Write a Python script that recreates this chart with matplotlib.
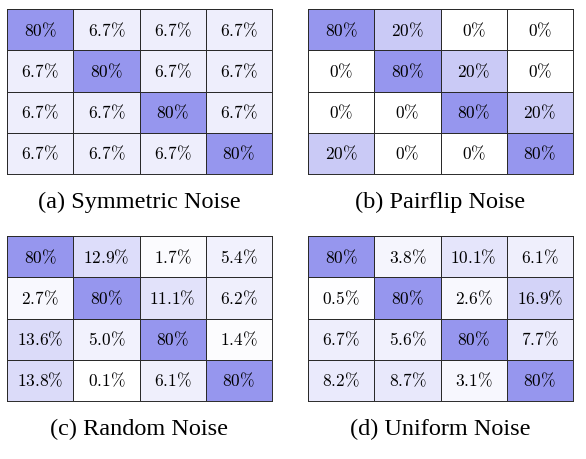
import numpy as np
import matplotlib
matplotlib.use('Agg')
import matplotlib.pyplot as plt
from matplotlib.colors import LinearSegmentedColormap, Normalize

plt.rcParams['mathtext.fontset'] = 'cm'

# cell values (percent), kept as printed in the picture
symmetric = [['80', '6.7', '6.7', '6.7'],
             ['6.7', '80', '6.7', '6.7'],
             ['6.7', '6.7', '80', '6.7'],
             ['6.7', '6.7', '6.7', '80']]
pairflip = [['80', '20', '0', '0'],
            ['0', '80', '20', '0'],
            ['0', '0', '80', '20'],
            ['20', '0', '0', '80']]
random_noise = [['80', '12.9', '1.7', '5.4'],
                ['2.7', '80', '11.1', '6.2'],
                ['13.6', '5.0', '80', '1.4'],
                ['13.8', '0.1', '6.1', '80']]
uniform = [['80', '3.8', '10.1', '6.1'],
           ['0.5', '80', '2.6', '16.9'],
           ['6.7', '5.6', '80', '7.7'],
           ['8.2', '8.7', '3.1', '80']]

titles = ['(a) Symmetric Noise', '(b) Pairflip Noise', '(c) Random Noise', '(d) Uniform Noise']
panels = [symmetric, pairflip, random_noise, uniform]

cmap = LinearSegmentedColormap.from_list('noise', ['#ffffff', '#9696ee'])
norm = Normalize(vmin=0, vmax=40, clip=True)

fig = plt.figure(figsize=(5.86, 4.60), dpi=100)

W, H = 586, 460
boxes = [(7, 10), (308, 10), (7, 237), (308, 237)]
bw, bh = 265, 165

for (x0, y0), data, title in zip(boxes, panels, titles):
    ax = fig.add_axes([x0 / W, 1 - (y0 + bh) / H, bw / W, bh / H])
    vals = np.array([[float(v) for v in row] for row in data])
    ax.pcolormesh(vals, cmap=cmap, norm=norm, edgecolors='#2a2a2a', linewidth=0.6)
    ax.set_xlim(0, 4)
    ax.set_ylim(4, 0)
    for i, row in enumerate(data):
        for j, s in enumerate(row):
            ax.text(j + 0.5, i + 0.5, r'$\mathrm{%s\%%}$' % s, ha='center', va='center', fontsize=12.5)
    ax.set_xticks([])
    ax.set_yticks([])
    for sp in ax.spines.values():
        sp.set_color('#2a2a2a')
        sp.set_linewidth(0.7)
    fig.text((x0 + bw / 2) / W, 1 - (y0 + bh + 27) / H, title, ha='center', va='center',
             fontsize=17.5, family='Liberation Serif')

fig.savefig('out.png', dpi=100)
